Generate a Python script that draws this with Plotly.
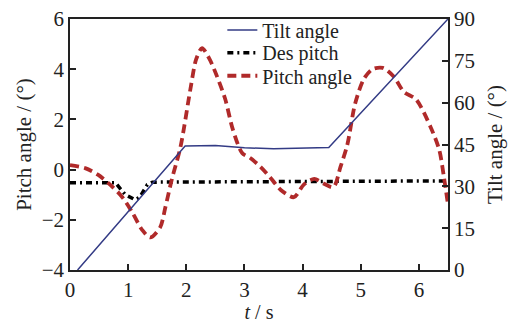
import plotly.graph_objects as go

# Tilt angle (right axis, degrees)
tilt_t = [0.13, 1.98, 2.5, 3.0, 3.5, 4.0, 4.45, 6.5]
tilt_v = [0.0, 44.5, 44.6, 43.8, 43.5, 43.6, 43.9, 90.0]

# Desired pitch (left axis)
des_t = [0.0, 0.78, 0.95, 1.12, 1.2, 1.33, 1.42, 6.5]
des_v = [-0.52, -0.52, -1.0, -1.2, -1.1, -0.6, -0.5, -0.45]

# Measured pitch angle (left axis)
pitch_t = [0.0, 0.26, 0.48, 0.69, 0.9, 1.07, 1.24, 1.38, 1.55, 1.64, 1.75, 1.9,
           2.07, 2.17, 2.27, 2.4, 2.53, 2.67, 2.8, 2.96, 3.1, 3.28, 3.45, 3.62,
           3.85, 4.02, 4.2, 4.36, 4.53, 4.65, 4.77, 4.9, 5.05, 5.2, 5.38, 5.57,
           5.74, 5.95, 6.2, 6.35, 6.43, 6.5]
pitch_v = [0.18, 0.06, -0.2, -0.6, -1.1, -1.7, -2.4, -2.7, -2.3, -1.5, -0.4, 0.9,
           3.2, 4.4, 4.84, 4.4, 3.7, 2.8, 1.6, 0.66, 0.46, 0.1, -0.33, -0.8,
           -1.1, -0.6, -0.37, -0.55, -0.7, 0.1, 1.0, 2.6, 3.6, 4.0, 4.05, 3.7,
           3.1, 2.8, 1.7, 0.78, -0.3, -1.4]

xticks = [0, 1, 2, 3, 4, 5, 6]
yticks_left = [-4, -2, 0, 2, 4, 6]
yticks_right = [0, 15, 30, 45, 60, 75, 90]

FONT = "Liberation Serif"
FS = 21
LFS = 20

fig = go.Figure()
fig.add_trace(go.Scatter(x=tilt_t, y=tilt_v, name="Tilt angle", yaxis="y2",
                         mode="lines", legend="legend",
                         line=dict(color="#333b85", width=1.5)))
fig.add_trace(go.Scatter(x=des_t, y=des_v, name="Des pitch", mode="lines",
                         legend="legend2",
                         line=dict(color="black", width=3.5, dash="6px,4px,2px,4px")))
fig.add_trace(go.Scatter(x=pitch_t, y=pitch_v, name="Pitch angle", mode="lines",
                         legend="legend3",
                         line=dict(color="#b02a2a", width=3.8, dash="9px,5px", shape="spline",
                                   smoothing=0.8)))

axis_common = dict(showline=True, linecolor="#222", linewidth=1.5, ticks="inside",
                   ticklen=6, tickcolor="#222", tickwidth=1.5, showgrid=False,
                   zeroline=False, automargin=False,
                   tickfont=dict(family=FONT, size=FS, color="#222"))

leg_common = dict(x=0.403, xanchor="left", yanchor="middle", bgcolor="rgba(0,0,0,0)",
                  font=dict(family=FONT, size=LFS, color="#222"), itemwidth=30)

fig.update_layout(
    width=514, height=323,
    margin=dict(l=70, r=66, t=19, b=53, autoexpand=False),
    paper_bgcolor="white", plot_bgcolor="white",
    font=dict(family=FONT, size=FS, color="#222"),
    xaxis=dict(range=[0, 6.5], tickvals=xticks, mirror=True,
               title=dict(text="<i>t</i> / s", standoff=5, font=dict(size=20)),
               **axis_common),
    yaxis=dict(range=[-4, 6], tickvals=yticks_left,
               title=dict(text="Pitch angle / (°)", standoff=4, font=dict(size=FS)),
               **axis_common),
    yaxis2=dict(range=[0, 90], tickvals=yticks_right, overlaying="y", side="right",
                title=dict(text="Tilt angle / (°)", standoff=13, font=dict(size=FS)),
                **axis_common),
    legend=dict(y=0.956, **leg_common),
    legend2=dict(y=0.866, **leg_common),
    legend3=dict(y=0.774, **leg_common),
    showlegend=True,
)

fig.write_html("out.html")
